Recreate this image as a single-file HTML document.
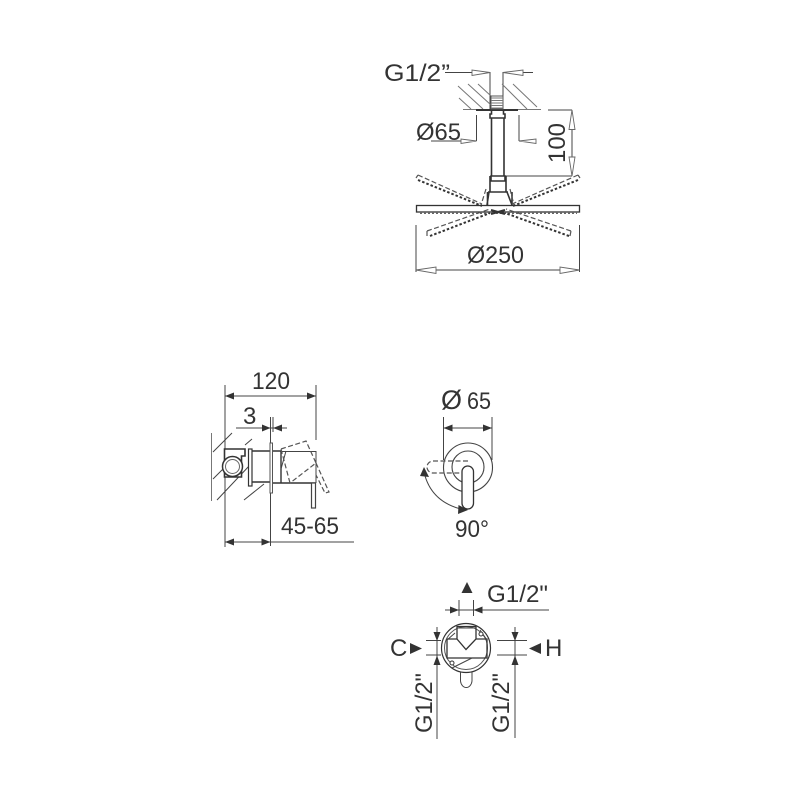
<!DOCTYPE html>
<html><head><meta charset="utf-8"><style>
html,body{margin:0;padding:0;background:#fff}
svg{display:block}
text{font-family:"Liberation Sans",sans-serif;fill:#333;font-size:24px}
.l{stroke:#444;stroke-width:1;fill:none}
.t{stroke:#333;stroke-width:1.6;fill:none}
.g{stroke:#777;stroke-width:1;fill:none}
.d{stroke:#555;stroke-width:1.2;fill:none;stroke-dasharray:5 2.5}
.p{stroke:#333;stroke-width:2;fill:none;stroke-dasharray:2.5 2}
.h{stroke:#666;stroke-width:.9;fill:#fff}
.f{fill:#333;stroke:none}
</style></head><body>
<svg width="800" height="800" viewBox="0 0 800 800" xmlns="http://www.w3.org/2000/svg">
<!-- TOP: shower head -->
<text x="384" y="81" textLength="66" lengthAdjust="spacingAndGlyphs">G1/2”</text>
<path class="l" d="M445 72.500H490M503 72.500H533M490 72V110M503 72V110"/>
<path class="h" d="M490 72.500L472 70V75.500ZM503 72.500L523 70V75.500Z"/>
<path class="g" d="M458 86L483 109M468 84L491 105M478 84L491 96M502 84L527 109M513 84L537 107M459 98L471 109"/>
<path class="g" d="M463 109.500H541"/>
<path class="t" d="M476 110H518" style="stroke-width:2"/>
<path d="M491 96H503V109H491Z" fill="#fff" stroke="#555"/>
<path class="g" d="M491 98H503M491 100.500H503M491 103H503M491 105.500H503M491 108H503"/>
<path class="t" d="M491.500 110V114H490V118H505V114H503.500V110M491.500 118V176M504 118V176"/>
<path class="l" d="M476.500 115V141M519 115V141M431 141H476.500M519 141H536"/>
<text x="416" y="140" textLength="45" lengthAdjust="spacingAndGlyphs">Ø65</text>
<path class="h" d="M476.500 141L461 139V143.500ZM519 141L536 139V143.500Z"/>
<path class="l" d="M548 110H572M505 176H572M572 110V176"/>
<path class="h" d="M572 110L569 129.500H575ZM572 176L569 157H575Z"/>
<text transform="translate(565 143) rotate(-90)" text-anchor="middle">100</text>
<!-- collar / canopy -->
<path class="t" d="M491 176H505V181H491ZM490 176V192H506V176M488 192H508"/>
<path class="t" d="M487.500 192V205M512 192V205M489 192L487 205M507 192L512 205"/>
<path class="d" d="M486 189L481 205M510 189L514 205"/>
<rect x="416.500" y="205.500" width="163" height="6.500" fill="#fff" stroke="#333" stroke-width="1.300"/>
<path class="p" d="M420 213H577" style="stroke:#666;stroke-dasharray:2 2"/>
<path class="d" d="M418 175L482 204M416 178L418 175M578 175L512 204M580 178L578 175"/>
<path class="p" d="M418 180L482 206M578 180L513 206"/>
<path class="d" d="M427 231L490 209M427 236L427 231M571 231L506 209M570 236L571 231"/>
<path class="p" d="M430 236L490 213M569 236L505 213"/>
<path class="t" d="M491 210L505 214M491 214L505 210" style="stroke-width:2"/>
<path class="l" d="M416 225V272M579.500 225V272M416 270H579.500"/>
<path class="h" d="M416 270L436 267V273.500ZM579.500 270L560 267V273.500Z"/>
<text x="467" y="263" textLength="57" lengthAdjust="spacingAndGlyphs">Ø250</text>
<!-- MIDDLE LEFT: mixer side -->
<text x="252" y="389" textLength="38" lengthAdjust="spacingAndGlyphs">120</text>
<path class="l" d="M225 385V547M316 385V440M225 396H316"/>
<path class="f" d="M225 396L234 392.500V399.500ZM316 396L307 392.500V399.500Z"/>
<text x="243" y="424">3</text>
<path class="l" d="M236 428H287M270.500 417V546M273 417V432"/>
<path class="f" d="M270.500 428L262 424.500V431.500ZM273 428L282 424.500V431.500Z"/>
<path class="g" d="M211.500 433V501"/>
<path class="l" d="M213 452L232 433M213 479L225 467M217 500L250 465M244 500L264 484M245 445L252 439"/>
<path class="t" d="M224.500 449H245V456H241.500V477H224.500Z" style="fill:#fff"/>
<circle cx="232.500" cy="466.500" r="10" fill="#fff" stroke="#333" stroke-width="1.500"/>
<circle cx="232.500" cy="466.500" r="7" fill="#fff" stroke="#666"/>
<rect x="248.500" y="449" width="3.500" height="37" fill="#fff" stroke="#333" stroke-width="1.200"/>
<path class="t" d="M252 451H270M252 482H270"/>
<rect x="270" y="443" width="2.500" height="50" fill="#fff" stroke="#555"/>
<path class="t" d="M273 451H281M273 483H316M281 451V483" style="stroke-width:1.400"/>
<path class="l" d="M281 451.500H316V483M286 451L281 469"/>
<path class="d" d="M281 449L306 441L316 463L290 483M316 463L329 492L325 493L316 475M281 449L290 483"/>
<rect x="311.500" y="483" width="4" height="25" fill="#fff" stroke="#444" stroke-width="1.200"/>
<path class="l" d="M225 542H354"/>
<path class="f" d="M225 542L234 538.500V545.500ZM270.500 542L261.500 538.500V545.500Z"/>
<text x="281" y="534" textLength="58" lengthAdjust="spacingAndGlyphs">45-65</text>
<!-- MIDDLE CENTRE: front -->
<text x="441" y="409" style="font-size:27px">Ø</text>
<text x="467" y="409" textLength="24" lengthAdjust="spacingAndGlyphs">65</text>
<path class="l" d="M443.500 417V460M492 417V460M443.500 428H492"/>
<path class="f" d="M443.500 428L452.500 424.500V431.500ZM492 428L483 424.500V431.500Z"/>
<circle cx="468" cy="467.500" r="24.500" fill="none" stroke="#444" stroke-width="1.100"/>
<circle cx="468" cy="467" r="16" fill="none" stroke="#444" stroke-width="1.100"/>
<path class="d" d="M468 461H433A6 6 0 0 0 433 473H462"/>
<rect x="462" y="466" width="11.500" height="43" rx="5.700" fill="#fff" stroke="#333" stroke-width="1.300"/>
<path class="l" d="M424 472Q431 503 465 510"/>
<path class="f" d="M424 467L429 477L420 476ZM468 510L458 514L458.500 505Z"/>
<text x="455" y="537" textLength="34" lengthAdjust="spacingAndGlyphs">90°</text>
<!-- BOTTOM -->
<path class="f" d="M467 582L472.500 593H461.500Z"/>
<text x="487" y="602" textLength="61" lengthAdjust="spacingAndGlyphs">G1/2"</text>
<path class="l" d="M445 610H549M459 600V616M473.500 600V616"/>
<path class="f" d="M459 610L450 606.500V613.500ZM473.500 610L482.500 606.500V613.500Z"/>
<circle cx="466" cy="648" r="24.500" fill="none" stroke="#333" stroke-width="1.200"/>
<circle cx="466" cy="648" r="21.500" fill="none" stroke="#555" stroke-width="1"/>
<path class="t" d="M447 639H457M476 639H487V658H447V639M457 626.500H476V639L466 649.500L457 639Z" style="stroke-width:1.300"/>
<path class="l" d="M457 628H476M447 640L455 633M487 640L480 630M452 668L472 658"/>
<circle cx="481" cy="634" r="2" fill="#fff" stroke="#333"/>
<circle cx="452" cy="663" r="2" fill="#fff" stroke="#333"/>
<path class="l" d="M460.500 672V681A5.800 7.500 0 0 0 472 681V672"/>
<path class="l" d="M426 640.500H441M426 655H441M437 627V739"/>
<path class="f" d="M437 641L433.500 632H440.500ZM437 655.500L433.500 665H440.500Z"/>
<path class="l" d="M497 640.500H527M497 655H527M515 627V738"/>
<path class="f" d="M515 641L511.500 632H518.500ZM515 655.500L511.500 665H518.500Z"/>
<text x="390" y="656">C</text>
<path class="f" d="M422 648.500L410 643V654Z"/>
<path class="f" d="M529 648.500L541 643V654Z"/>
<text x="545" y="656">H</text>
<text transform="translate(432 733) rotate(-90)" textLength="60" lengthAdjust="spacingAndGlyphs">G1/2"</text>
<text transform="translate(509 733) rotate(-90)" textLength="60" lengthAdjust="spacingAndGlyphs">G1/2"</text>
</svg>
</body></html>
